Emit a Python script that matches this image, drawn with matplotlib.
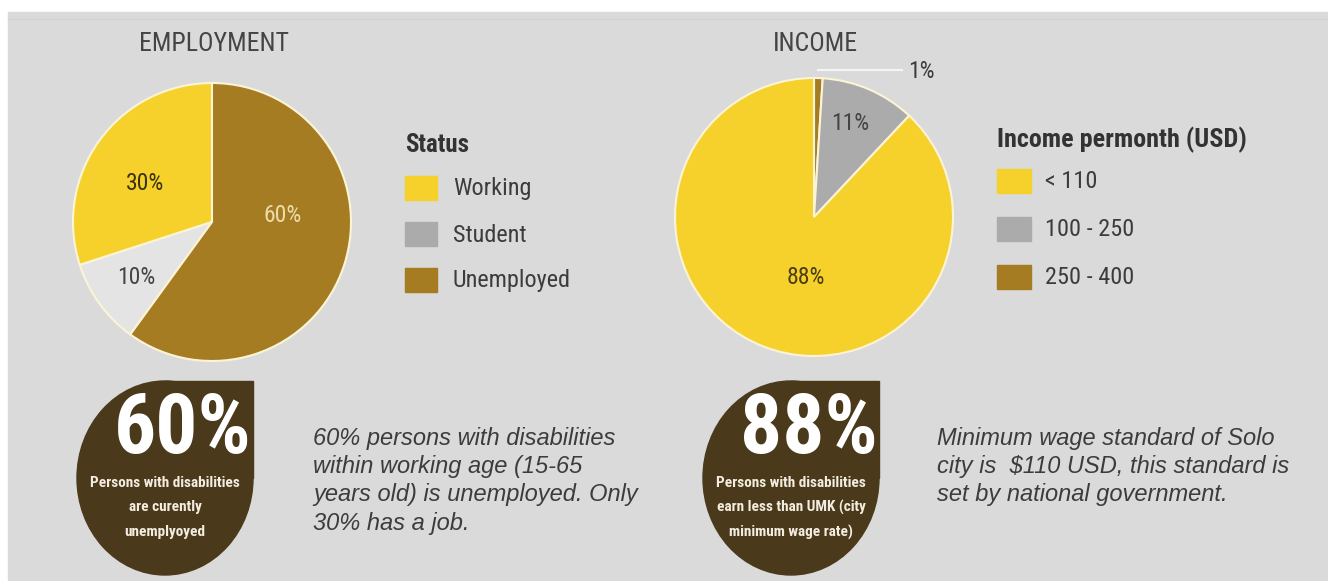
import matplotlib
matplotlib.use("Agg")
import matplotlib.pyplot as plt
from matplotlib import font_manager
from matplotlib.patches import Rectangle, Ellipse

# data
emp_labels = ["Working", "Student", "Unemployed"]
emp_values = [30, 10, 60]
inc_labels = ["< 110", "100 - 250", "250 - 400"]
inc_values = [88, 11, 1]
big_numbers = ["60%", "88%"]
big_captions = [["Persons with disabilities", "are curently", "unemplyoyed"],
                ["Persons with disabilities", "earn less than UMK (city", "minimum wage rate)"]]
notes = [["60% persons with disabilities", "within working age (15-65",
          "years old) is unemployed. Only", "30% has a job."],
         ["Minimum wage standard of Solo", "city is  $110 USD, this standard is",
          "set by national government."]]

YELLOW = "#f6d12c"
BROWN = "#a67c23"
GRAY = "#ababab"
LIGHT = "#e4e4e4"
DROP = "#4a391a"
BG = "#dadada"
TXT = "#3c3c3c"

FONTS = font_manager.fontManager.ttflist


def has(fam, bold=False):
    for f in FONTS:
        if f.name == fam:
            w = f.weight if isinstance(f.weight, int) else (700 if "bold" in str(f.weight) else 400)
            if (w >= 600) == bold and "italic" not in f.fname.lower():
                return True
    return False


def pick(prefs, bold=False):
    for fam in prefs:
        if has(fam, bold):
            return fam
    return "DejaVu Sans"


NARROW = pick(["Roboto Condensed", "Barlow Condensed", "PT Sans Narrow", "Archivo Narrow", "Asap Condensed"])
NARROW_B = pick(["Roboto Condensed", "Barlow Condensed", "PT Sans Narrow", "Asap Condensed"], bold=True)
ITAL = pick(["Liberation Sans", "Arimo", "DejaVu Sans"])

W, H = 1328, 581
fig = plt.figure(figsize=(W / 100, H / 100), dpi=100)
ax = fig.add_axes([0, 0, 1, 1])


def Y(py):
    # pixel row from the top -> data y
    return H - py


# background panel
ax.add_patch(Rectangle((8, 0), W - 8, H - 12, color=BG, zorder=0))
ax.plot([8, W], [Y(19), Y(19)], color="#d3d3d3", lw=1, zorder=0.5)

# ---- employment pie
R = 139
c1 = (212, Y(222))
ax.pie(emp_values, colors=[YELLOW, LIGHT, BROWN], startangle=90,
       counterclock=True, center=c1, radius=R,
       wedgeprops=dict(edgecolor="#fbf4d6", linewidth=1.5))
emp_pos = [(145, 183), (136, 277), (283, 215)]
emp_col = ["#3a3210", "#444444", "#eddcab"]
for v, (px, py), col in zip(emp_values, emp_pos, emp_col):
    ax.text(px, Y(py), f"{v}%", family=NARROW, fontsize=17, color=col,
            ha="center", va="center")

# ---- income pie (drawn clockwise from the top: 250-400, 100-250, < 110)
c2 = (814, Y(217))
ax.pie(inc_values[::-1], colors=[BROWN, GRAY, YELLOW], startangle=90,
       counterclock=False, center=c2, radius=R,
       wedgeprops=dict(edgecolor="#fbf4d6", linewidth=1.5))
inc_pos = [(806, 278), (850, 123), (921, 71)]
inc_col = ["#4a3c10", "#444444", TXT]
for v, (px, py), col in zip(inc_values, inc_pos, inc_col):
    ax.text(px, Y(py), f"{v}%", family=NARROW, fontsize=17, color=col,
            ha="center", va="center")
ax.plot([818, 902], [Y(70), Y(70)], color="#f4f4f4", lw=1.5, zorder=3)

# ---- titles
ax.text(214, Y(44), "EMPLOYMENT", family=NARROW, fontsize=18.5, color="#444444",
        ha="center", va="center")
ax.text(815, Y(44), "INCOME", family=NARROW, fontsize=18.5, color="#444444",
        ha="center", va="center")

# ---- legends
ax.text(405, Y(145), "Status", family=NARROW_B, fontsize=18, weight="bold",
        color="#333333", ha="left", va="center")
for i, (lab, col) in enumerate(zip(emp_labels, [YELLOW, GRAY, BROWN])):
    yc = 188 + i * 46
    ax.add_patch(Rectangle((405, Y(yc + 12)), 32, 24, color=col, zorder=2))
    ax.text(453, Y(yc + 1), lab, family=NARROW, fontsize=17.5, color=TXT,
            ha="left", va="center")

ax.text(997, Y(140), "Income permonth (USD)", family=NARROW_B, fontsize=18.8,
        weight="bold", color="#333333", ha="left", va="center")
for i, (lab, col) in enumerate(zip(inc_labels, [YELLOW, GRAY, BROWN])):
    yc = 181 + i * 48
    ax.add_patch(Rectangle((997, Y(yc + 12)), 34, 24, color=col, zorder=2))
    ax.text(1045, Y(yc + 1), lab, family=NARROW, fontsize=17.5, color=TXT,
            ha="left", va="center")

# ---- drop badges and notes
for cx, num, cap, note, nx in zip([165, 791], big_numbers, big_captions, notes, [313, 937]):
    cy = Y(478)
    rx, ry = 88, 97
    ax.add_patch(Ellipse((cx, cy), 2 * rx, 2 * ry, color=DROP, zorder=2))
    ax.add_patch(Rectangle((cx, cy), rx, ry, color=DROP, zorder=2))
    ax.text(cx + 18, Y(430), num, family=NARROW_B, fontsize=60, weight="bold",
            color="white", ha="center", va="center", zorder=3)
    for j, line in enumerate(cap):
        ax.text(cx, Y(483 + j * 24.5), line, family=NARROW_B, fontsize=11,
                weight="bold", color="#f3ece0", ha="center", va="center", zorder=3)
    for j, line in enumerate(note):
        ax.text(nx, Y(438 + j * 28.5), line, family=ITAL, style="italic",
                fontsize=17, color=TXT, ha="left", va="center")

ax.set_xlim(0, W)
ax.set_ylim(0, H)
ax.set_aspect("auto")
ax.axis("off")
fig.savefig("out.png", dpi=100, facecolor="white")
